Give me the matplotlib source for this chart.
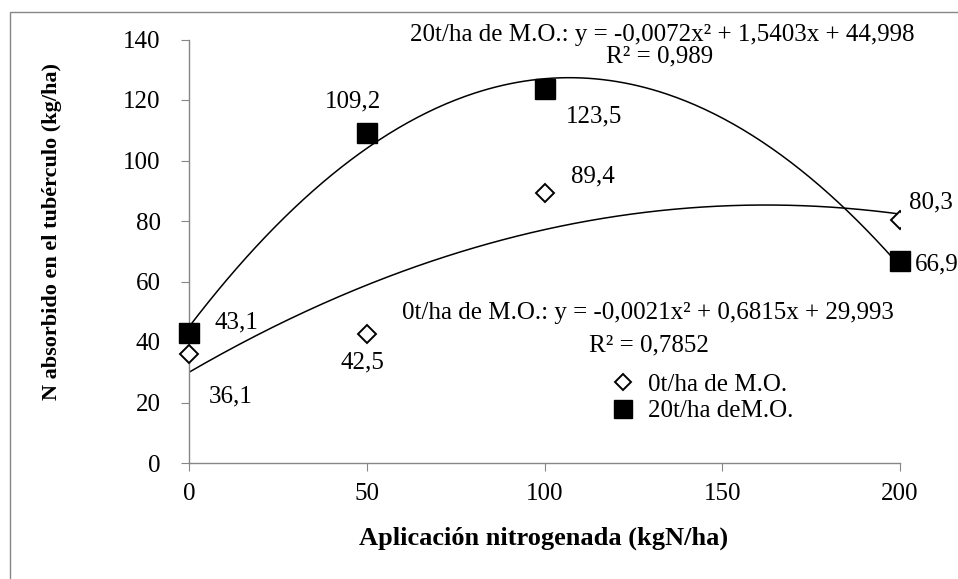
import matplotlib
matplotlib.use("Agg")
import matplotlib.pyplot as plt
import matplotlib.patches as mpatches
import numpy as np

plt.rcParams['font.family'] = ['Liberation Serif', 'DejaVu Serif']

# data
dosis = [0, 50, 100, 200]
n_0t = [36.1, 42.5, 89.4, 80.3]
n_20t = [43.1, 109.2, 123.5, 66.9]
lbl_0t = ["36,1", "42,5", "89,4", "80,3"]
lbl_20t = ["43,1", "109,2", "123,5", "66,9"]
coef_0t = [-0.0021, 0.6815, 29.993]
coef_20t = [-0.0072, 1.5403, 44.998]
xticks = [0, 50, 100, 150, 200]
yticks = [0, 20, 40, 60, 80, 100, 120, 140]

W, H = 958, 579
fig = plt.figure(figsize=(W / 100, H / 100), dpi=100)
ax = fig.add_axes([189 / W, 1 - 463 / H, (900 - 189) / W, (463 - 39.5) / H])

# outer chart border (cut by the image edge on the right and bottom)
fig.patches.append(mpatches.Rectangle((10 / W, -0.1), 1.2, 1.1 - 12 / H, transform=fig.transFigure,
                                      fill=False, edgecolor="#868686", linewidth=1.0))

# trendlines
xs = np.linspace(0, 200, 300)
ax.plot(xs, np.polyval(coef_0t, xs), color="black", linewidth=1.1)
ax.plot(xs, np.polyval(coef_20t, xs), color="black", linewidth=1.1)

# points
d, = ax.plot(dosis, n_0t, linestyle="none", marker="D", markersize=9.5, markerfacecolor="white",
             markeredgecolor="black", markeredgewidth=1.4, label="0t/ha de M.O.", zorder=3)
d.set_clip_path(mpatches.Rectangle((-0.1, -0.1), 1.1, 1.2, transform=ax.transAxes))
s, = ax.plot(dosis, n_20t, linestyle="none", marker="s", markersize=14, color="black",
             label="20t/ha deM.O.", zorder=3, clip_on=False)

# data labels (pixel offsets)
off_0t = [(42, -43, "center"), (-4, -28, "center"), (48, 16, "center"), (31, 18, "center")]
off_20t = [(47, 10, "center"), (-14, 31, "center"), (50, -27, "center"), (15, -4, "left")]
for x, y, t, (dx, dy, ha) in zip(dosis, n_0t, lbl_0t, off_0t):
    ax.annotate(t, (x, y), xytext=(dx, dy), textcoords="offset pixels", ha=ha, va="center",
                fontsize=18, annotation_clip=False)
for x, y, t, (dx, dy, ha) in zip(dosis, n_20t, lbl_20t, off_20t):
    ax.annotate(t, (x, y), xytext=(dx, dy), textcoords="offset pixels", ha=ha, va="center",
                fontsize=18, annotation_clip=False)

# equations
fig.text(662 / W, 1 - 35 / H, "20t/ha de M.O.: y = -0,0072x² + 1,5403x + 44,998", ha="center", va="center", fontsize=18)
fig.text(660 / W, 1 - 56 / H, "R² = 0,989", ha="center", va="center", fontsize=18)
fig.text(648 / W, 1 - 313 / H, "0t/ha de M.O.: y = -0,0021x² + 0,6815x + 29,993", ha="center", va="center", fontsize=18)
fig.text(649 / W, 1 - 345 / H, "R² = 0,7852", ha="center", va="center", fontsize=18)

leg = ax.legend(handles=[d, s], loc="upper left", bbox_to_anchor=(595 / W, 1 - 361 / H),
                bbox_transform=fig.transFigure, frameon=False, fontsize=18, handlelength=1.2,
                handletextpad=0.4, labelspacing=0.15, borderpad=0, markerscale=0.9)

ax.set_xlim(0, 200)
ax.set_ylim(0, 140)
ax.set_xticks(xticks)
ax.set_yticks(yticks)
for side in ["top", "right"]:
    ax.spines[side].set_visible(False)
for side in ["left", "bottom"]:
    ax.spines[side].set_color("#868686")
    ax.spines[side].set_linewidth(1.0)
ax.tick_params(axis="both", direction="out", length=5.5, color="#868686", labelsize=18)
ax.tick_params(axis="x", pad=9)
ax.tick_params(axis="y", pad=15)

fig.text(544 / W, 1 - 538 / H, "Aplicación nitrogenada (kgN/ha)", ha="center", va="center",
         fontsize=19, fontweight="bold")
fig.text(52 / W, 1 - 232 / H, "N absorbido en el tubérculo (kg/ha)", ha="center", va="center",
         rotation=90, fontsize=16, fontweight="bold")

fig.savefig("out.png", dpi=100)
